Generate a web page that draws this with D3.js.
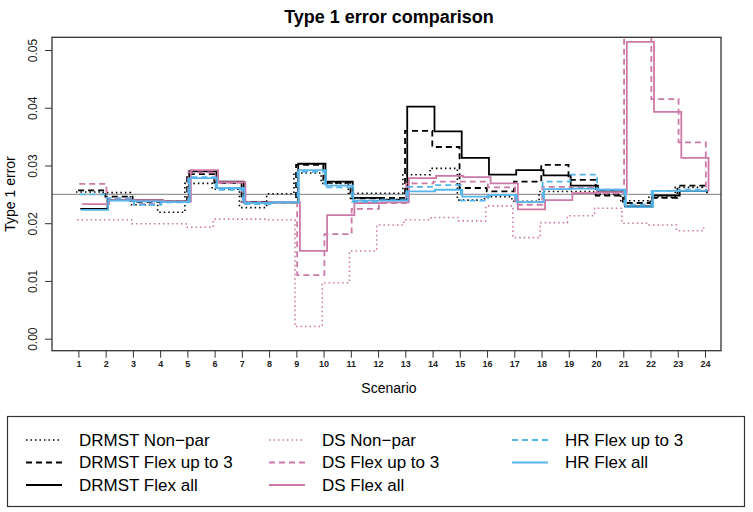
<!DOCTYPE html>
<html>
<head>
<meta charset="utf-8">
<script src="https://cdn.jsdelivr.net/npm/d3@7"></script>
<style>
  body { margin: 0; background: #fff; }
  svg { font-family: "Liberation Sans", Arial, sans-serif; }
</style>
</head>
<body>
<svg width="753" height="512"></svg>
<script>
var scenarios = [1,2,3,4,5,6,7,8,9,10,11,12,13,14,15,16,17,18,19,20,21,22,23,24]
var yTicks = [0, 0.01, 0.02, 0.03, 0.04, 0.05]
var refLevel = 0.025

var drmstNonpar  = [0.0254,0.0253,0.0232,0.0219,0.0269,0.0259,0.0227,0.0251,0.0287,0.0269,0.0252,0.0252,0.0284,0.0295,0.0240,0.0246,0.0238,0.0255,0.0255,0.0250,0.0239,0.0245,0.0262,0.0258]
var drmstFlex3   = [0.0257,0.0246,0.0237,0.0238,0.0285,0.0270,0.0237,0.0236,0.0301,0.0270,0.0243,0.0244,0.0360,0.0332,0.0261,0.0255,0.0272,0.0301,0.0275,0.0248,0.0235,0.0244,0.0265,0.0258]
var drmstFlexAll = [0.0225,0.0240,0.0240,0.0238,0.0290,0.0272,0.0236,0.0236,0.0303,0.0272,0.0244,0.0241,0.0402,0.0359,0.0313,0.0284,0.0292,0.0283,0.0265,0.0256,0.0229,0.0248,0.0256,0.0252]
var dsNonpar     = [0.0206,0.0206,0.0199,0.0199,0.0193,0.0207,0.0207,0.0206,0.0021,0.0097,0.0152,0.0197,0.0206,0.0210,0.0204,0.0230,0.0175,0.0201,0.0213,0.0226,0.0200,0.0197,0.0187,0.0198]
var dsFlex3      = [0.0268,0.0243,0.0233,0.0238,0.0288,0.0270,0.0235,0.0236,0.0110,0.0181,0.0225,0.0235,0.0269,0.0272,0.0272,0.0262,0.0232,0.0263,0.0261,0.0252,0.0545,0.0415,0.0340,0.0256]
var dsFlexAll    = [0.0233,0.0240,0.0240,0.0238,0.0292,0.0271,0.0236,0.0237,0.0152,0.0214,0.0235,0.0236,0.0278,0.0282,0.0280,0.0269,0.0224,0.0240,0.0252,0.0254,0.0514,0.0393,0.0313,0.0255]
var hrFlex3      = [0.0250,0.0243,0.0232,0.0236,0.0280,0.0258,0.0233,0.0236,0.0289,0.0262,0.0237,0.0240,0.0263,0.0266,0.0239,0.0249,0.0237,0.0272,0.0284,0.0258,0.0232,0.0256,0.0258,0.0256]
var hrFlexAll    = [0.0223,0.0239,0.0238,0.0237,0.0278,0.0261,0.0235,0.0236,0.0292,0.0265,0.0239,0.0239,0.0255,0.0258,0.0246,0.0249,0.0237,0.0259,0.0260,0.0258,0.0228,0.0256,0.0256,0.0256]

var seriesNames = ["DRMST Non-par","DRMST Flex up to 3","DRMST Flex all","DS Non-par","DS Flex up to 3","DS Flex all","HR Flex up to 3","HR Flex all"]
var seriesValues = [drmstNonpar, drmstFlex3, drmstFlexAll, dsNonpar, dsFlex3, dsFlexAll, hrFlex3, hrFlexAll]

// style per series: colour, dash, small x shift so overlapping steps stay visible
var pink = "#cc79a7", blue = "#56b4e9"
var styles = [
    {color: "#000", dash: "1.5,3", width: 1.6, shift: -0.09},
    {color: "#000", dash: "6,4", width: 1.8, shift: -0.01},
    {color: "#000", dash: null, width: 1.8, shift: 0.07},
    {color: pink, dash: "1.5,3", width: 1.6, shift: -0.05},
    {color: pink, dash: "6,4", width: 1.8, shift: 0.03},
    {color: pink, dash: null, width: 1.8, shift: 0.13},
    {color: blue, dash: "6,4", width: 1.8, shift: 0.04},
    {color: blue, dash: null, width: 1.8, shift: 0.09}
]

var svg = d3.select("svg")
var box = {left: 52, right: 721, top: 37.3, bottom: 350.7}

var x = d3.scaleLinear().domain([1, 24]).range([78.4, 705])
var y = d3.scaleLinear().domain([-0.00208, 0.0522]).range([box.bottom, box.top])

svg.append("text")
    .attr("x", 389).attr("y", 23)
    .attr("text-anchor", "middle")
    .attr("font-size", "18px").attr("font-weight", "bold")
    .text("Type 1 error comparison")

svg.append("clipPath").attr("id", "plotclip")
    .append("rect")
    .attr("x", box.left).attr("y", box.top)
    .attr("width", box.right - box.left).attr("height", box.bottom - box.top)

var plot = svg.append("g").attr("clip-path", "url(#plotclip)")

plot.append("line")
    .attr("x1", box.left).attr("x2", box.right)
    .attr("y1", y(refLevel)).attr("y2", y(refLevel))
    .attr("stroke", "#999").attr("stroke-width", 1.3)

seriesValues.forEach(function(vals, i){
    var st = styles[i]
    var line = d3.line()
        .curve(d3.curveStepAfter)
        .x(function(d, j){ return x(scenarios[j] + st.shift) })
        .y(function(d){ return y(d) })
    plot.append("path")
        .datum(vals)
        .attr("fill", "none")
        .attr("stroke", st.color)
        .attr("stroke-width", st.width)
        .attr("stroke-dasharray", st.dash)
        .attr("d", line)
})

svg.append("rect")
    .attr("x", box.left).attr("y", box.top)
    .attr("width", box.right - box.left).attr("height", box.bottom - box.top)
    .attr("fill", "none").attr("stroke", "#333").attr("stroke-width", 1.3)

// x axis
var xAxis = d3.axisBottom(x).tickValues(scenarios).tickSize(7).tickPadding(3)
var gx = svg.append("g").attr("transform", "translate(0," + box.bottom + ")").call(xAxis)
gx.select(".domain").remove()
gx.selectAll(".tick line").attr("stroke", "#333")
gx.selectAll("text").attr("font-size", "9px").attr("font-weight", "bold").attr("fill", "#222")

// y axis, labels turned like R does
var yAxis = d3.axisLeft(y).tickValues(yTicks).tickSize(7).tickFormat(d3.format(".2f"))
var gy = svg.append("g").attr("transform", "translate(" + box.left + ",0)").call(yAxis)
gy.select(".domain").remove()
gy.selectAll(".tick line").attr("stroke", "#333")
gy.selectAll("text")
    .attr("x", 0).attr("dy", null)
    .attr("transform", "translate(-15,0) rotate(-90)")
    .attr("text-anchor", "middle")
    .attr("font-size", "12px").attr("fill", "#222")

svg.append("text")
    .attr("x", 389).attr("y", 393)
    .attr("text-anchor", "middle").attr("font-size", "14px")
    .text("Scenario")

svg.append("text")
    .attr("transform", "translate(15,194) rotate(-90)")
    .attr("text-anchor", "middle").attr("font-size", "14px")
    .text("Type 1 error")

// legend
svg.append("rect")
    .attr("x", 7.5).attr("y", 416.5).attr("width", 737).attr("height", 90)
    .attr("fill", "none").attr("stroke", "#333").attr("stroke-width", 1.2)

var colX = [26, 269, 512]
var rowY = [440, 462.5, 485]
var legendSlots = [[0,0],[0,1],[0,2],[1,0],[1,1],[1,2],[2,0],[2,1]]

seriesNames.forEach(function(name, i){
    var st = styles[i]
    var cx = colX[legendSlots[i][0]], cy = rowY[legendSlots[i][1]]
    svg.append("line")
        .attr("x1", cx).attr("x2", cx + 36)
        .attr("y1", cy).attr("y2", cy)
        .attr("stroke", st.color)
        .attr("stroke-width", st.width)
        .attr("stroke-dasharray", st.dash)
    svg.append("text")
        .attr("x", cx + 53).attr("y", cy)
        .attr("dy", "0.35em")
        .attr("font-size", "17px")
        .text(name.replace("-", "\u2212"))
})
</script>
</body>
</html>
